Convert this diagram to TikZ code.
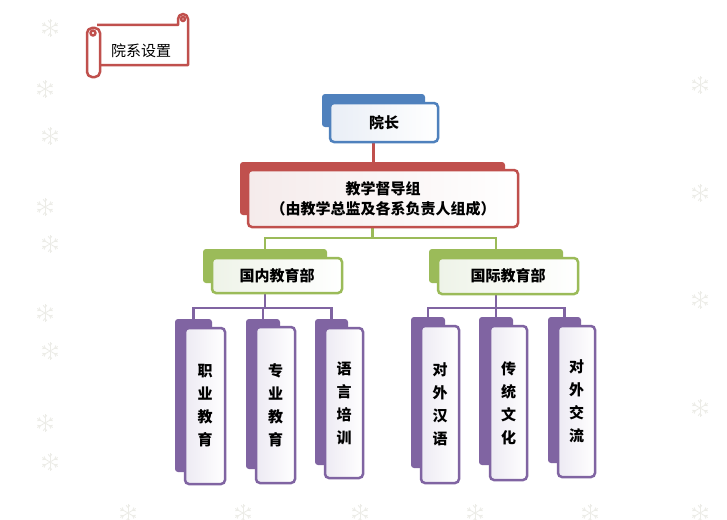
\documentclass[tikz,border=0pt]{standalone}
\usepackage{fontspec}
\setmainfont{Noto Sans CJK SC}
\usetikzlibrary{calc}
\definecolor{cred}{RGB}{192,80,77}
\definecolor{cblue}{RGB}{79,129,189}
\definecolor{cgreen}{RGB}{155,187,89}
\definecolor{cpurple}{RGB}{128,100,162}
\definecolor{tred}{RGB}{245,235,235}
\definecolor{tblue}{RGB}{233,238,246}
\definecolor{tgreen}{RGB}{238,243,232}
\definecolor{tpurple}{RGB}{237,234,243}
\definecolor{flakecol}{RGB}{236,236,231}
\pgfdeclarelayer{bottom}
\pgfdeclarelayer{background}
\pgfsetlayers{bottom,background,main}
\tikzset{
  back/.style={fill=#1, draw=none, rounded corners=3pt, inner sep=0pt},
  front/.style 2 args={draw=#1, line width=2.5pt, rounded corners=4pt,
    left color=#2, middle color=#2, right color=white, inner sep=0pt,
    align=center, font=\fontsize{15}{23}\selectfont\bfseries},
  sz/.style 2 args={minimum width=#1pt, minimum height=#2pt},
  conn/.style={draw=#1, line width=2.5pt},
  scrollline/.style={draw=cred, line width=2.5pt, line join=round},
  flakeline/.style={draw=flakecol, line width=0.8pt},
  flake/.pic={
    \foreach \a in {30,90,150}{\draw[flakeline] (\a:-9) -- (\a:9);}
    \foreach \a in {30,90,...,330}{
      \draw[flakeline] (\a:5.5) -- ++(\a+40:3);
      \draw[flakeline] (\a:5.5) -- ++(\a-40:3);}
  }
}
\begin{document}
\begin{tikzpicture}[x=1pt,y=-1pt]
\begin{pgfonlayer}{bottom}
\fill[white] (0,0) rectangle (727,519);
\end{pgfonlayer}
\useasboundingbox (0,0) rectangle (727,519);

% snowflakes
\foreach \p in {(50,28),(45,89),(50,136),(45,207),(50,244),(45,313),(50,351),(45,423),(50,462),
  (128,513),(243,513),(360,513),(475,513),(590,513),
  (700,85),(700,193),(700,300),(700,408),(700,513)}
  {\pic at \p {flake};}

% title scroll
\draw[scrollline, fill=white] (97,25) -- (178,25) -- (178,19)
  arc[start angle=180, end angle=360, radius=5] -- (188,65) -- (97,65);
\draw[scrollline] (183,19) circle[radius=2];
\draw[scrollline, fill=white, rounded corners=5pt] (87,28) rectangle (100,77);
\draw[scrollline] (93,33) circle[radius=2.5];
\node[font=\fontsize{15}{17}\selectfont] (title) at (141,51) {院系设置};

% dean
\node[back=cblue, sz={103}{33}] (deanB) at (373.5,110.5) {};
\node[front={cblue}{tblue}, sz={108}{39}] (deanF) at (384,122.5) {院长};

% supervision group
\node[back=cred, sz={265}{53}] (groupB) at (372.5,188.5) {};
\node[front={cred}{tred}, sz={270}{57}, font=\fontsize{15}{20}\selectfont\bfseries]
  (groupF) at (383,198.5) {教学督导组\\（由教学总监及各系负责人组成）};

% departments
\node[back=cgreen, sz={124}{34}] (domB) at (265,266) {};
\node[front={cgreen}{tgreen}, sz={130}{35}] (domF) at (277,275.5) {国内教育部};
\node[back=cgreen, sz={134}{34}] (intB) at (496,266) {};
\node[front={cgreen}{tgreen}, sz={140}{36}] (intF) at (508,276) {国际教育部};

% domestic units
\node[back=cpurple, sz={37}{153}] (p1B) at (193.5,395.5) {};
\node[front={cpurple}{tpurple}, sz={40}{156}] (p1F) at (205,406) {职\\业\\教\\育};
\node[back=cpurple, sz={34}{150}] (p2B) at (263,394) {};
\node[front={cpurple}{tpurple}, sz={39}{156}] (p2F) at (275.5,405) {专\\业\\教\\育};
\node[back=cpurple, sz={33}{146}] (p3B) at (331.5,392) {};
\node[front={cpurple}{tpurple}, sz={38}{150}] (p3F) at (344,403) {语\\言\\培\\训};

% international units
\node[back=cpurple, sz={34}{151}] (p4B) at (428,392.5) {};
\node[front={cpurple}{tpurple}, sz={38}{157}] (p4F) at (440,404.5) {对\\外\\汉\\语};
\node[back=cpurple, sz={34}{148}] (p5B) at (496,391) {};
\node[front={cpurple}{tpurple}, sz={37}{154}] (p5F) at (508.5,403) {传\\统\\文\\化};
\node[back=cpurple, sz={33}{146}] (p6B) at (564.5,390) {};
\node[front={cpurple}{tpurple}, sz={37}{151}] (p6F) at (576.5,401.5) {对\\外\\交\\流};

% connectors
\begin{pgfonlayer}{background}
\draw[conn=cred] (deanB.south) -- (deanB.south |- groupB.north);
\draw[conn=cgreen] (groupB.south) -- ++(0,23) -| (domB.north);
\draw[conn=cgreen] (groupB.south) -- ++(0,23) -| (intB.north);
\foreach \t in {p1B,p2B,p3B}
  \draw[conn=cpurple] (domB.south) -- ++(0,25) -| (\t.north);
\foreach \t in {p4B,p5B,p6B}
  \draw[conn=cpurple] (intB.south) -- ++(0,25) -| (\t.north);
\end{pgfonlayer}
\end{tikzpicture}
\end{document}
